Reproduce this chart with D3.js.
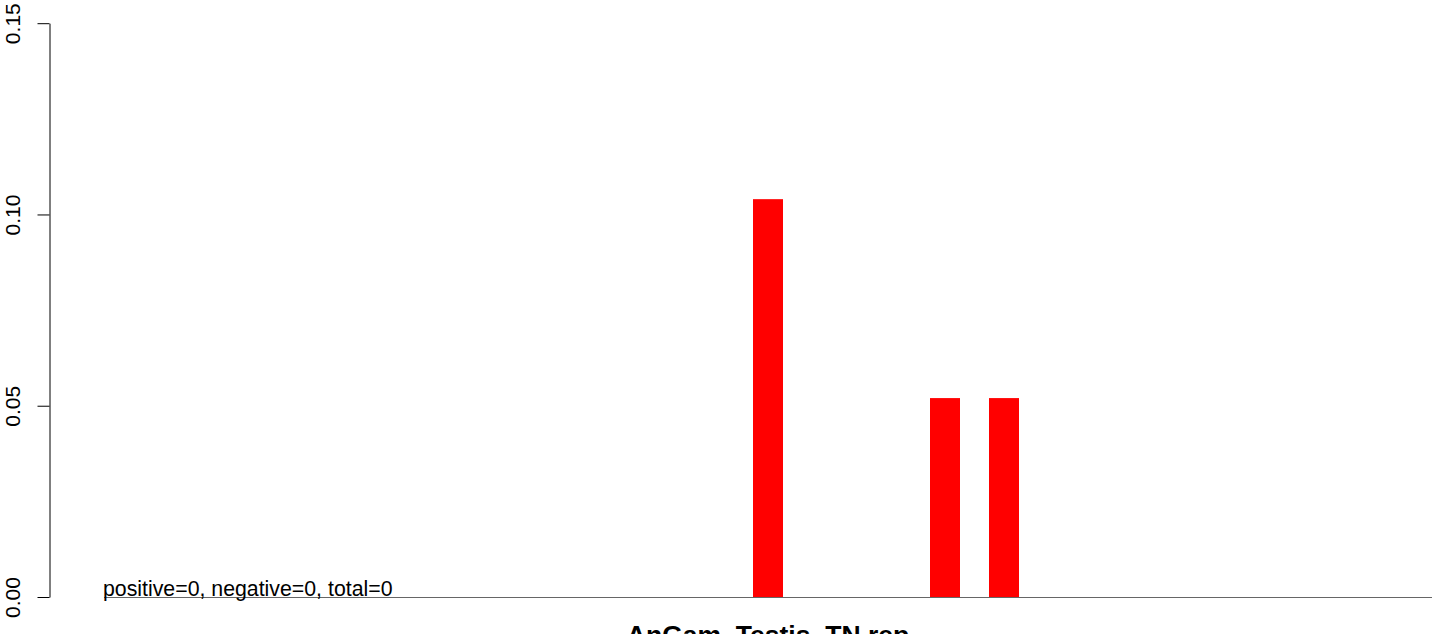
<!DOCTYPE html>
<html>
<head>
<meta charset="utf-8">
<script src="https://cdn.jsdelivr.net/npm/d3@7"></script>
<style>
  html, body { margin: 0; padding: 0; background: #fff; }
  svg { display: block; }
  text { font-family: "Liberation Sans", Arial, sans-serif; }
</style>
</head>
<body>
<svg id="chart" width="1444" height="634"></svg>
<script>
// ---- data ----
const categories = ["1","2","3","4","5","6","7","8","9","10","11","12","13","14","15","16","17","18","19","20","21","22","23"];
const values = [0,0,0,0,0,0,0,0,0,0,0,0.104,0,0,0.052,0.052,0,0,0,0,0,0,0];
const yTicks = [0, 0.05, 0.10, 0.15];
const yTickLabels = ["0.00", "0.05", "0.10", "0.15"];
const title = "AnGam_Testis_TN rep";
const annotation = "positive=0, negative=0, total=0";

// ---- layout ----
const svg = d3.select("#chart");
const x = d3.scaleBand().domain(categories).range([104, 1432])
  .paddingInner(29 / 59).paddingOuter(0).align(0);
const y = d3.scaleLinear().domain([0, 0.15]).range([597, 23.2]);

// baseline
svg.append("line")
  .attr("x1", x.range()[0]).attr("x2", x.range()[1])
  .attr("y1", y(0) + 0.5).attr("y2", y(0) + 0.5)
  .attr("stroke", "#666").attr("stroke-width", 1);

// bars
svg.append("g").selectAll("rect")
  .data(categories.map((c, i) => ({ c, v: values[i] })).filter(d => d.v > 0))
  .join("rect")
  .attr("x", d => x(d.c))
  .attr("width", x.bandwidth())
  .attr("y", d => y(d.v))
  .attr("height", d => y(0) - y(d.v))
  .attr("fill", "#ff0000");

// y axis
const yAxis = d3.axisLeft(y)
  .tickValues(yTicks)
  .tickFormat((d, i) => yTickLabels[i])
  .tickSize(12)
  .tickSizeOuter(0);
const ga = svg.append("g").attr("transform", "translate(49.5,0)").call(yAxis);
ga.select(".domain").attr("stroke", "#000");
ga.selectAll(".tick line").attr("stroke", "#000");
ga.selectAll(".tick text")
  .attr("transform", "rotate(-90)")
  .attr("x", 0).attr("y", -29.5).attr("dy", null)
  .attr("text-anchor", "middle")
  .attr("fill", "#000")
  .style("font-size", "21px")
  .style("font-family", "'Liberation Sans', Arial, sans-serif");

// annotation
svg.append("text")
  .attr("x", 103).attr("y", 596)
  .attr("fill", "#000")
  .style("font-size", "21.3px")
  .text(annotation);

// title
svg.append("text")
  .attr("x", 768).attr("y", 644)
  .attr("text-anchor", "middle")
  .attr("fill", "#000")
  .style("font-size", "26.5px").style("font-weight", "bold")
  .text(title);
</script>
</body>
</html>
